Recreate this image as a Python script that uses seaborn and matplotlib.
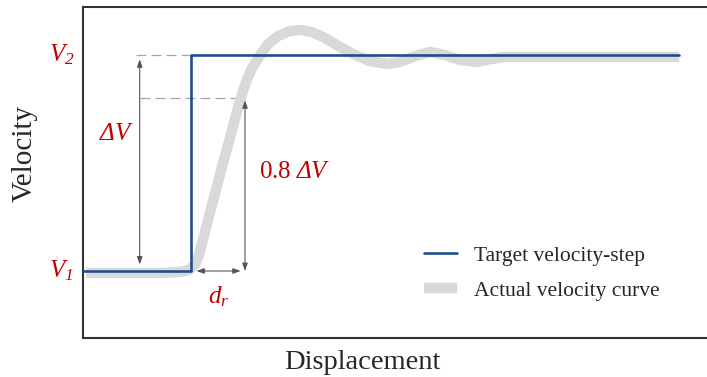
import numpy as np
import pandas as pd
import matplotlib
matplotlib.use("Agg")
import matplotlib.pyplot as plt
import seaborn as sns
from matplotlib.transforms import blended_transform_factory

# ---------------- data ----------------
V1 = 0.0
V2 = 1.0
step_x = 2.0          # displacement of the target velocity step
x_end = 11.04         # end of the plotted curves
rise_frac = 0.8       # 0.8 ΔV level
rise_x = 3.0          # displacement where actual curve reaches 0.8 ΔV
dv_arrow_x = 1.05     # where the ΔV arrow is drawn

target_x = [0.0, step_x, step_x, x_end]
target_y = [V1, V1, V2, V2]

actual_x = [0.06, 1.43, 1.80, 1.96, 2.07, 2.15, 2.22, 2.35, 2.50, 2.65, 2.78,
            2.91, 3.02, 3.13, 3.28, 3.43, 3.61, 3.83, 4.02, 4.24, 4.48, 4.76,
            5.04, 5.31, 5.63, 5.87, 6.15, 6.43, 6.70, 6.98, 7.30, 7.54, 7.81,
            8.46, 11.04]
actual_y = [-0.009, -0.009, -0.005, 0.005, 0.028, 0.074, 0.144, 0.269, 0.412,
            0.551, 0.671, 0.792, 0.875, 0.940, 1.000, 1.051, 1.088, 1.111,
            1.116, 1.106, 1.079, 1.037, 1.000, 0.972, 0.958, 0.968, 0.995,
            1.014, 1.000, 0.977, 0.968, 0.981, 0.991, 0.991, 0.991]

legend_labels = ["Target velocity-step", "Actual velocity curve"]

# ---------------- style ----------------
sns.set_style("white")
plt.rcParams["font.family"] = ["Liberation Serif", "DejaVu Serif"]
plt.rcParams["mathtext.fontset"] = "custom"
plt.rcParams["mathtext.rm"] = "Liberation Serif"
plt.rcParams["mathtext.it"] = "Liberation Serif:italic"
plt.rcParams["mathtext.sf"] = "Liberation Serif:italic"

red = "#C00000"
blue = "#1F4E8C"
gray = "#D9D9D9"

fig = plt.figure(figsize=(7.07, 3.77), dpi=100)
ax = fig.add_axes([83 / 707, 39 / 377, 623 / 707, 331.5 / 377])

actual = pd.DataFrame({"x": actual_x, "y": actual_y})
target = pd.DataFrame({"x": target_x, "y": target_y})

sns.lineplot(data=actual, x="x", y="y", ax=ax, color=gray, lw=7.5,
             estimator=None, sort=False, label=legend_labels[1],
             solid_capstyle="butt", solid_joinstyle="round", zorder=2)
sns.lineplot(data=target, x="x", y="y", ax=ax, color=blue, lw=1.9,
             estimator=None, sort=False, label=legend_labels[0], zorder=3)

ax.set_xlim(0, 623 / 54)
ax.set_ylim((271 - 338) / 216, (271 - 6.5) / 216)
ax.set_xticks([])
ax.set_yticks([])

for side in ["left", "bottom", "top"]:
    ax.spines[side].set_color("#333333")
    ax.spines[side].set_linewidth(1.5)
ax.spines["right"].set_visible(False)

ax.set_xlabel("Displacement", fontsize=20.5)
ax.set_ylabel("Velocity", fontsize=21)
ax.xaxis.set_label_coords(0.448, -0.035, transform=ax.transAxes)
ax.xaxis.label.set_va("top")
ax.yaxis.label.set_va("center")
ax.yaxis.set_label_coords(-0.093, 0.558, transform=ax.transAxes)

# ---------------- annotations ----------------
dash_kw = dict(color="#A6A6A6", lw=0.9, ls=(0, (8, 4)), zorder=1)
level08 = V1 + rise_frac * (V2 - V1)
ax.plot([dv_arrow_x - 0.06, step_x], [V2, V2], **dash_kw)
ax.plot([dv_arrow_x, rise_x], [level08, level08], **dash_kw)

arrow_kw = dict(arrowstyle="<|-|>,head_length=0.45,head_width=0.16",
                color="#555555", lw=0.8, shrinkA=0, shrinkB=0)
ax.annotate("", xy=(dv_arrow_x, V2 - 0.02), xytext=(dv_arrow_x, V1 + 0.03),
            arrowprops=arrow_kw, zorder=4)
ax.annotate("", xy=(rise_x, level08 - 0.01), xytext=(rise_x, V1),
            arrowprops=arrow_kw, zorder=4)
ax.annotate("", xy=(step_x + 0.1, V1), xytext=(rise_x - 0.08, V1),
            arrowprops=arrow_kw, zorder=4)

bl = blended_transform_factory(ax.transAxes, ax.transData)
ax.text(-0.054, V2, r"$\mathsf{V_2}$", color=red, fontsize=18,
        transform=bl, ha="left", va="center")
ax.text(-0.054, V1, r"$\mathsf{V_1}$", color=red, fontsize=18,
        transform=bl, ha="left", va="center")
ax.text(0.63, 0.634, r"$\mathsf{ΔV}$", color=red, fontsize=18,
        ha="center", va="center")
ax.text(3.93, 0.458, r"$0.8\ \mathsf{ΔV}$", color=red, fontsize=18,
        ha="center", va="center")
ax.text((step_x + rise_x) / 2 + 0.02, -0.12, r"$\mathsf{d_r}$", color=red,
        fontsize=18, ha="center", va="center")

# ---------------- legend ----------------
h, l = ax.get_legend_handles_labels()
order = [l.index(legend_labels[0]), l.index(legend_labels[1])]
ax.legend([h[i] for i in order], [l[i] for i in order], frameon=False,
          loc="center left", bbox_to_anchor=(0.547, 0.195),
          borderaxespad=0, borderpad=0, handlelength=1.55,
          handletextpad=0.8, labelspacing=0.7, fontsize=15.5)

fig.savefig("out.png", dpi=100)
